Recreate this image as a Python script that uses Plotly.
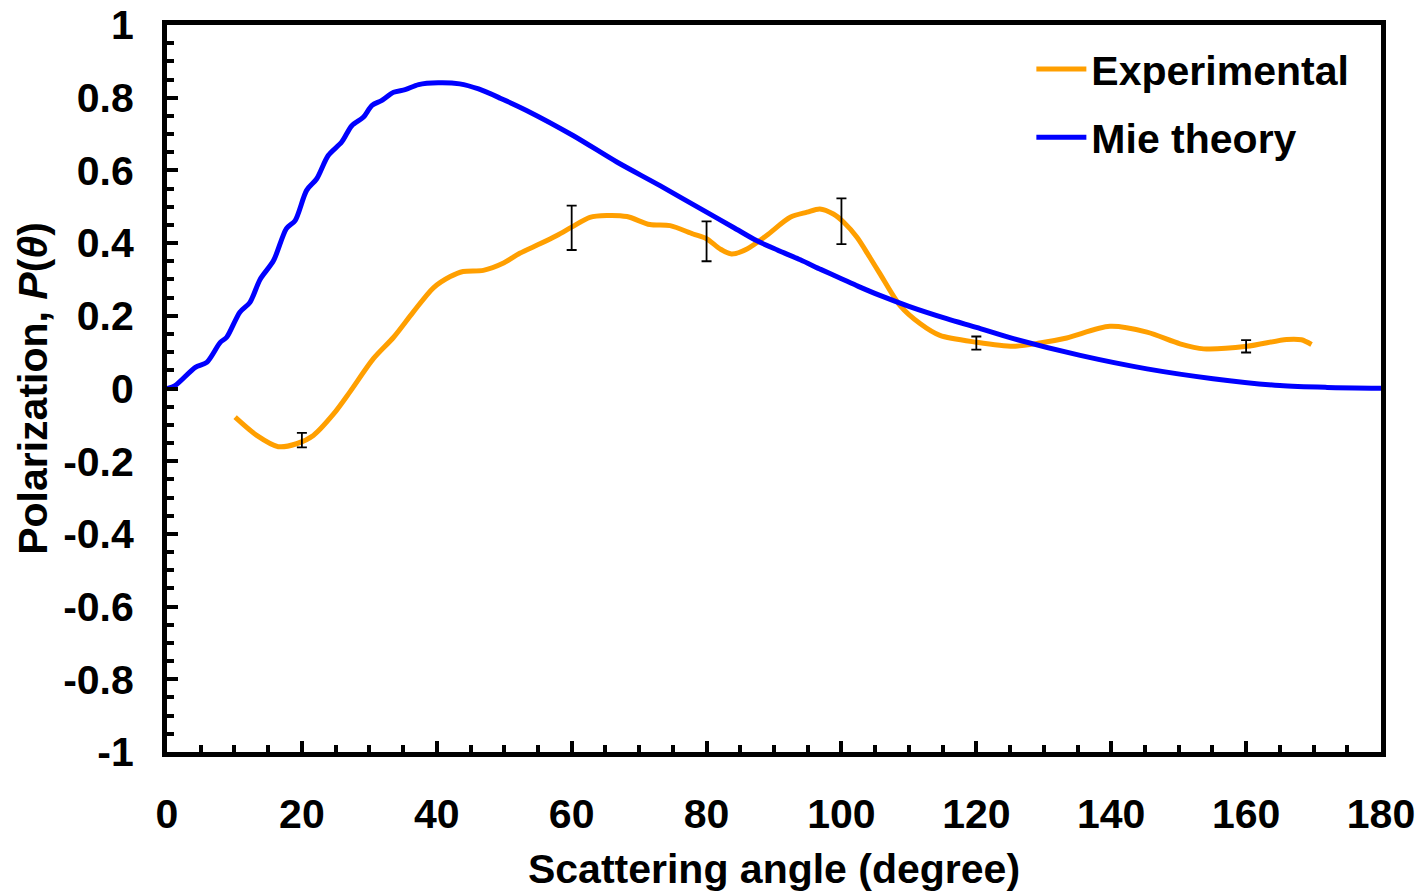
import plotly.graph_objects as go

# Mie theory polarization curve
mie_angle = [0, 1.2, 4.2, 5.9, 7.9, 8.85, 10.8, 12.3, 13.8, 15.8, 17.7, 19.0, 20.7, 22.2,
             23.9, 25.9, 27.4, 29.1, 30.4, 31.8, 33.6, 35.3, 37.3, 40.2, 43.4, 46.2,
             49.5, 53.3, 60.2, 66.7, 73.1, 80.0, 84.0, 87.4, 90.5, 93.9, 97.0, 100.0,
             102.5, 105.7, 110.0, 115.6, 120.0, 125.5, 135.4, 145.3, 155.1, 165.0, 172.0,
             180.0]
mie_pol = [0.0, 0.008, 0.058, 0.072, 0.127, 0.141, 0.21, 0.237, 0.30, 0.352, 0.44, 0.462,
           0.545, 0.577, 0.641, 0.678, 0.723, 0.746, 0.779, 0.792, 0.815, 0.822, 0.836,
           0.841, 0.838, 0.824, 0.798, 0.765, 0.696, 0.623, 0.558, 0.485, 0.443, 0.407,
           0.381, 0.354, 0.327, 0.302, 0.281, 0.256, 0.226, 0.192, 0.168, 0.137, 0.091,
           0.054, 0.027, 0.008, 0.003, 0.001]

# Measured polarization curve
exp_angle = [10.1, 13.3, 16.5, 19.2, 21.7, 24.7, 27.1, 30.6, 33.6, 36.5, 39.5, 42.0, 43.9,
             46.9, 49.9, 52.3, 55.3, 57.8, 60.0, 62.7, 65.2, 68.2, 71.6, 74.6, 78.0, 80.0,
             82.0, 83.7, 86.0, 88.9, 92.4, 94.9, 96.8, 98.8, 100.3, 102.3, 104.2, 105.7,
             108.7, 111.7, 114.6, 120.1, 125.5, 129.4, 133.4, 139.8, 145.3, 150.2, 153.7,
             160.1, 166.0, 168.2, 169.7]
exp_pol = [-0.079, -0.129, -0.160, -0.152, -0.129, -0.070, -0.010, 0.082, 0.141, 0.21,
           0.277, 0.308, 0.322, 0.325, 0.345, 0.372, 0.398, 0.421, 0.444, 0.471, 0.476,
           0.473, 0.451, 0.448, 0.425, 0.412, 0.384, 0.37, 0.384, 0.421, 0.471, 0.485,
           0.494, 0.48, 0.458, 0.416, 0.361, 0.316, 0.228, 0.178, 0.146, 0.127, 0.116,
           0.125, 0.139, 0.171, 0.155, 0.123, 0.109, 0.116, 0.135, 0.134, 0.121]

# Error bars on selected measurement angles
err_angle = [20, 60, 80, 100, 120, 160]
err_pol = [-0.142, 0.442, 0.405, 0.46, 0.125, 0.116]
err_size = [0.02, 0.061, 0.055, 0.063, 0.018, 0.017]

# Axis tick labels
x_ticks = [0, 20, 40, 60, 80, 100, 120, 140, 160, 180]
x_labels = ["0", "20", "40", "60", "80", "100", "120", "140", "160", "180"]
y_ticks = [-1, -0.8, -0.6, -0.4, -0.2, 0, 0.2, 0.4, 0.6, 0.8, 1]
y_labels = ["-1", "-0.8", "-0.6", "-0.4", "-0.2", "0", "0.2", "0.4", "0.6", "0.8", "1"]

FONT = "Arial, 'Liberation Sans', sans-serif"
FS = 41

fig = go.Figure()

fig.add_trace(go.Scatter(
    x=exp_angle, y=exp_pol, mode="lines", name="Experimental", legendgroup="exp",
    line=dict(color="#FF9F00", width=5, shape="spline", smoothing=0.8),
))
fig.add_trace(go.Scatter(
    x=mie_angle, y=mie_pol, mode="lines", name="Mie theory", legendgroup="mie",
    line=dict(color="#0000FF", width=5, shape="spline", smoothing=0.8),
))
fig.add_trace(go.Scatter(
    x=err_angle, y=err_pol, mode="markers", showlegend=False,
    marker=dict(size=1, color="rgba(0,0,0,0)"),
    error_y=dict(type="data", array=err_size, visible=True,
                 color="black", thickness=1.8, width=5),
))

axis_common = dict(
    showgrid=False, zeroline=False, showline=True, linecolor="black", linewidth=5,
    mirror=True, ticks="inside", tickcolor="black", tickwidth=4, ticklen=11,
    automargin=False, tickmode="array",
    tickfont=dict(family=FONT, size=FS, color="black", weight="bold"),
)

fig.update_xaxes(
    range=[0, 180], tickvals=x_ticks, ticktext=x_labels,
    minor=dict(ticks="inside", dtick=5, tick0=0, ticklen=7, tickwidth=4, tickcolor="black"),
    ticklabelstandoff=22,
    title=dict(text="Scattering angle (degree)", standoff=20,
               font=dict(family=FONT, size=FS, color="black", weight="bold")),
    **axis_common,
)
fig.update_yaxes(
    range=[-1, 1], tickvals=y_ticks, ticktext=y_labels,
    minor=dict(ticks="inside", dtick=0.05, tick0=0, ticklen=7, tickwidth=4, tickcolor="black"),
    ticklabelstandoff=20,
    title=dict(text="Polarization, <i>P</i>(<i>θ</i>)", standoff=4,
               font=dict(family=FONT, size=FS, color="black", weight="bold")),
    **axis_common,
)

fig.update_layout(
    width=1423, height=895,
    margin=dict(l=167, r=42, t=25, b=143),
    paper_bgcolor="white", plot_bgcolor="white",
    showlegend=True,
    legend=dict(x=0.712, y=0.985, xanchor="left", yanchor="top",
                bgcolor="rgba(0,0,0,0)", itemwidth=50,
                traceorder="grouped", tracegroupgap=12,
                font=dict(family=FONT, size=FS, color="black", weight="bold")),
)

fig.write_html("out.html")
